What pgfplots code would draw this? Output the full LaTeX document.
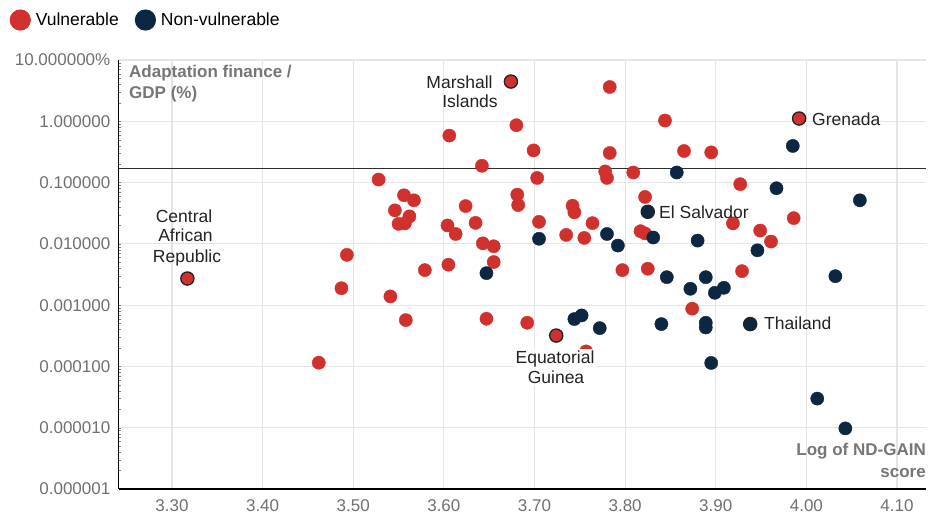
\documentclass[border=0pt]{standalone}
\usepackage{fontspec}
\setmainfont{Liberation Sans}
\usepackage{pgfplots}
\usepackage{pgfplotstable}
\pgfplotsset{compat=1.18}
\definecolor{vred}{RGB}{208,49,45}
\definecolor{vnavy}{RGB}{12,39,66}
\definecolor{gridc}{RGB}{229,229,229}
\definecolor{tickgray}{RGB}{112,112,112}
\definecolor{titlegray}{RGB}{118,118,118}
\definecolor{anntext}{RGB}{34,34,34}

\pgfplotstableread{
x y
3.783 3.63
3.606 0.585
3.680 0.863
3.699 0.335
3.783 0.304
3.642 0.188
3.528 0.112
3.703 0.119
3.778 0.152
3.780 0.119
3.809 0.146
3.556 0.0621
3.567 0.0514
3.546 0.0352
3.562 0.0281
3.550 0.0212
3.557 0.0216
3.624 0.0414
3.681 0.0635
3.682 0.0430
3.604 0.0200
3.613 0.0145
3.635 0.0220
3.705 0.0229
3.742 0.0419
3.744 0.0327
3.764 0.0218
3.735 0.0140
3.755 0.0125
3.822 0.0582
3.817 0.0161
3.822 0.0148
3.493 0.00662
3.643 0.0102
3.655 0.00914
3.655 0.00505
3.579 0.00373
3.605 0.00457
3.797 0.00373
3.825 0.00393
3.487 0.00189
3.541 0.00139
3.558 0.000571
3.647 0.000600
3.692 0.000516
3.757 0.000176
3.462 0.000115
3.844 1.03
3.865 0.328
3.895 0.311
3.927 0.0942
3.919 0.0216
3.949 0.0165
3.986 0.0263
3.961 0.0109
3.929 0.00359
3.874 0.000876
}\redtab

\pgfplotstableread{
x y
3.705 0.0121
3.780 0.0145
3.792 0.00938
3.831 0.0127
3.647 0.00333
3.744 0.000593
3.752 0.000680
3.772 0.000422
3.985 0.396
3.857 0.146
3.967 0.0809
4.059 0.0514
3.946 0.00785
3.880 0.0113
3.846 0.00286
3.889 0.00286
3.872 0.00185
3.899 0.00159
3.909 0.00192
4.032 0.00297
3.840 0.000491
3.889 0.000516
3.889 0.000432
3.895 0.000114
4.012 0.0000299
4.043 0.00000975
}\navytab

\pgfplotstableread{
x y
3.674 4.45
3.724 0.000319
3.317 0.00272
3.992 1.11
}\redhl

\pgfplotstableread{
x y
3.825 0.0334
3.938 0.000491
}\navyhl

\begin{document}
\begin{tikzpicture}[x=1pt,y=1pt]
\useasboundingbox (0,0) rectangle (928,520);
\begin{axis}[
  at={(118.5pt,31pt)}, anchor=south west,
  width=807.5pt, height=429pt, scale only axis,
  xmin=3.241, xmax=4.132, ymin=1e-6, ymax=10, ymode=log,
  axis x line*=bottom, axis y line*=left,
  axis line style={-, black, line width=1.3pt},
  xtick={3.3,3.4,3.5,3.6,3.7,3.8,3.9,4.0,4.1},
  xticklabels={3.30,3.40,3.50,3.60,3.70,3.80,3.90,4.00,4.10},
  ytick={1e-6,1e-5,1e-4,1e-3,1e-2,1e-1,1,10},
  yticklabels={0.000001,0.000010,0.000100,0.001000,0.010000,0.100000,1.000000,10.000000\%},
  major tick length=0pt,
  grid=major,
  major grid style={draw=gridc, line width=1.2pt},
  tick label style={font=\fontsize{17}{20}\selectfont, text=tickgray},
  xticklabel style={anchor=north, inner sep=0pt, yshift=-10pt},
  yticklabel style={anchor=east, inner sep=0pt, xshift=-8pt},
  clip=false,
  legend columns=-1,
  legend style={at={(-0.135,1.0932)}, anchor=west, draw=none, fill=none,
    font=\fontsize{17.5}{20}\selectfont, inner sep=0pt,
    /tikz/every even column/.append style={column sep=14pt}},
]
\addplot[forget plot, color={rgb,255:red,45;green,45;blue,45}, line width=1.2pt] coordinates {(3.241,0.1676) (4.132,0.1676)};
\addplot[only marks, mark=*, mark size=6.6pt, color=vred, draw=none, fill=vred,
  legend image code/.code={\fill[vred] (5pt,0pt) circle (10.6pt);}] table[x=x,y=y] {\redtab};
\addlegendentry{\,Vulnerable}
\addplot[only marks, mark=*, mark size=6.6pt, color=vnavy, draw=none, fill=vnavy,
  legend image code/.code={\fill[vnavy] (5pt,0pt) circle (10.6pt);}] table[x=x,y=y] {\navytab};
\addlegendentry{\,Non-vulnerable}
\addplot[forget plot, only marks, mark=*, mark size=6.6pt, mark options={draw=anntext, fill=vred, line width=1.3pt}] table[x=x,y=y] {\redhl};
\addplot[forget plot, only marks, mark=*, mark size=6.6pt, mark options={draw=anntext, fill=vnavy, line width=1.3pt}] table[x=x,y=y] {\navyhl};
\end{axis}
% annotations (positions in pixel units, y measured from top)
\begin{scope}[every node/.style={font=\fontsize{17.5}{20}\selectfont, text=anntext, inner sep=0pt}]
\node[anchor=base] at (459.5,520-88.2) {Marshall};
\node[anchor=base] at (470,520-107.2) {Islands};
\node[anchor=base west] at (812,520-125.2) {Grenada};
\node[anchor=base west] at (659,520-218.2) {El Salvador};
\node[anchor=base west] at (764,520-329.5) {Thailand};
\node[anchor=base, fill=white, inner sep=1.5pt] at (556,520-383) {Guinea};
\node[anchor=base, fill=white, inner sep=1.5pt] at (555,520-363) {Equatorial};
\node[anchor=base] at (184,520-222) {Central};
\node[anchor=base] at (185.5,520-242) {African};
\node[anchor=base] at (187,520-262) {Republic};
\end{scope}
\begin{scope}[every node/.style={font=\bfseries\fontsize{17}{20}\selectfont, text=titlegray, inner sep=0pt}]
\node[anchor=base west] at (129,520-78) {Adaptation finance /};
\node[anchor=base west] at (129,520-99) {GDP (\%)};
\node[anchor=base east] at (926,520-455) {Log of ND-GAIN};
\node[anchor=base east] at (926,520-477) {score};
\end{scope}
\end{tikzpicture}
\end{document}
